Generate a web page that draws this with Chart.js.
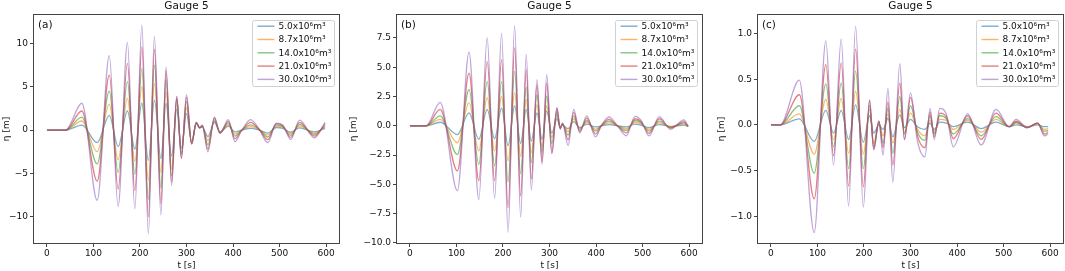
<!DOCTYPE html>
<html>
<head>
<meta charset="utf-8">
<script src="https://cdn.jsdelivr.net/npm/chart.js@4.4.0/dist/chart.umd.min.js"></script>
<style>
  html, body { margin: 0; padding: 0; background: #fff; }
  #wrap { position: relative; width: 1065px; height: 271px; overflow: hidden; }
  .panel { position: absolute; top: 0; height: 271px; }
</style>
</head>
<body>
<div id="wrap">
  <div class="panel" style="left:0px;width:355px"><canvas id="ca"></canvas></div>
  <div class="panel" style="left:340px;width:375px"><canvas id="cb"></canvas></div>
  <div class="panel" style="left:710px;width:355px"><canvas id="cc"></canvas></div>
</div>
<script>
// legend labels + matplotlib default colours
const volumes = ['5.0x10⁶m³', '8.7x10⁶m³', '14.0x10⁶m³', '21.0x10⁶m³', '30.0x10⁶m³']
const colours = ['31,119,180', '255,127,14', '44,160,44', '214,39,40', '148,103,189']

const xTicks = [0, 100, 200, 300, 400, 500, 600]

// (a) times of the crests / troughs [s] and η [m] for each volume
const tA = [0, 40, 75, 108, 134, 153, 173, 189, 204, 218, 231, 245, 256, 268, 279, 289, 300, 311, 321, 328, 334, 346, 360, 372, 390, 404, 419, 438, 456, 475, 493, 507, 524, 543, 575, 598]
const a5 = [0, 0, 0.58, -1.45, 1.7, -1.9, 2.2, -2.2, 3.1, -3.5, 3.45, -3.3, 3.1, -3.0, 2.4, -2.1, 1.9, -1.4, 0.75, 0.3, 0.35, -0.75, 0.9, -0.2, 0.45, -0.2, 0.0, 0.2, 0.0, -0.35, 0.3, 0.2, -0.25, 0.25, -0.2, 0.2]
const a8_7 = [0, 0, 1.05, -2.5, 3.0, -3.4, 3.65, -3.6, 5.0, -5.8, 5.4, -4.9, 4.4, -4.5, 3.5, -2.6, 2.6, -1.5, 0.8, 0.3, 0.4, -1.2, 1.0, -0.25, 0.6, -0.45, 0.0, 0.4, 0.05, -0.55, 0.45, 0.3, -0.4, 0.45, -0.35, 0.35]
const a14 = [0, 0, 1.5, -3.9, 4.5, -4.9, 5.6, -5.1, 7.1, -8.0, 7.5, -6.7, 5.8, -5.3, 3.6, -2.8, 3.3, -1.6, 0.85, 0.3, 0.45, -1.7, 1.2, -0.3, 0.8, -0.7, 0.0, 0.6, 0.1, -0.8, 0.6, 0.4, -0.6, 0.65, -0.5, 0.5]
const a21 = [0, 0, 2.2, -5.9, 6.35, -6.8, 7.7, -7.0, 9.6, -10.0, 9.3, -8.5, 6.9, -6.0, 3.85, -3.3, 3.8, -1.6, 0.9, 0.25, 0.5, -2.2, 1.4, -0.35, 1.0, -1.0, 0.0, 0.9, 0.1, -1.1, 0.75, 0.5, -0.85, 0.9, -0.7, 0.75]
const a30 = [0, 0, 3.1, -8.1, 8.6, -8.8, 10.1, -9.1, 12.1, -12.0, 10.8, -9.8, 7.3, -6.4, 3.9, -3.2, 4.1, -1.6, 0.9, 0.2, 0.6, -2.5, 1.5, -0.4, 1.2, -1.35, 0.0, 1.2, 0.1, -1.45, 0.8, 0.6, -1.1, 1.15, -0.9, 0.9]

// (b)
const tB = [0, 35, 65, 102, 127, 148, 166, 182, 197, 211, 225, 238, 250, 261, 273, 284, 294, 305, 316, 323, 328, 340, 352, 365, 380, 399, 412, 428, 446, 465, 484, 497, 514, 536, 560, 589, 598]
const b5 = [0, 0, 0.3, -0.75, 1.1, -1.15, 1.4, -1.1, 1.5, -1.7, 1.7, -1.5, 1.4, -1.3, 1.1, -1.15, 1.25, -0.6, 0.6, -0.1, 0.05, -0.25, 0.35, -0.15, 0.15, -0.1, 0.0, 0.1, 0.0, -0.1, 0.15, 0.05, -0.15, 0.1, -0.05, 0.05, -0.05]
const b8_7 = [0, 0, 0.55, -1.45, 1.95, -2.15, 2.4, -2.15, 2.5, -3.0, 2.8, -2.6, 2.25, -2.3, 1.8, -1.8, 1.7, -1.0, 0.9, -0.15, 0.1, -0.5, 0.6, -0.25, 0.3, -0.3, 0.0, 0.25, 0.0, -0.25, 0.3, 0.15, -0.3, 0.25, -0.1, 0.15, -0.05]
const b14 = [0, 0, 0.85, -2.45, 3.1, -3.3, 3.8, -3.4, 3.8, -4.8, 4.65, -4.1, 3.3, -3.15, 2.65, -2.3, 2.55, -1.5, 1.2, -0.2, 0.15, -0.8, 0.85, -0.35, 0.45, -0.45, 0.02, 0.4, 0.0, -0.4, 0.45, 0.25, -0.45, 0.4, -0.15, 0.25, -0.05]
const b21 = [0, 0, 1.4, -3.85, 4.5, -4.7, 5.5, -4.7, 5.65, -7.0, 6.65, -6.0, 4.8, -4.55, 3.5, -3.1, 3.65, -2.3, 1.5, -0.25, 0.2, -1.2, 1.15, -0.5, 0.65, -0.7, 0.05, 0.55, 0.0, -0.6, 0.6, 0.35, -0.65, 0.6, -0.2, 0.35, -0.05]
const b30 = [0, 0, 2.0, -5.55, 6.3, -6.3, 7.5, -6.2, 7.9, -9.1, 8.55, -7.8, 6.1, -5.5, 3.95, -3.3, 4.4, -2.4, 1.55, -0.3, 0.25, -1.7, 1.4, -0.6, 0.85, -0.95, 0.05, 0.75, 0.0, -0.85, 0.8, 0.45, -0.87, 0.78, -0.3, 0.5, -0.05]

// (c)
const tC = [0, 20, 61, 93, 118, 134.5, 151, 167, 182, 198.6, 212, 221, 232, 241, 251.5, 262, 277, 287, 300, 315, 331, 342, 351, 363, 377, 392, 423, 452, 484, 512, 527, 551, 573, 588, 596]
const c5 = [0, 0, 0.065, -0.18, 0.16, -0.09, 0.16, -0.16, 0.22, -0.19, 0.1, -0.09, 0.0, -0.05, 0.07, -0.13, 0.11, -0.03, 0.06, -0.02, -0.05, 0.02, -0.05, 0.03, 0.02, -0.02, 0.03, -0.04, 0.03, -0.02, 0.0, -0.02, 0.0, -0.02, -0.02]
const c8_7 = [0, 0, 0.12, -0.32, 0.28, -0.16, 0.29, -0.31, 0.37, -0.32, 0.17, -0.2, 0.02, -0.12, 0.12, -0.2, 0.17, -0.08, 0.13, -0.05, -0.12, 0.05, -0.08, 0.06, 0.05, -0.05, 0.05, -0.08, 0.06, -0.02, 0.02, -0.02, 0.01, -0.05, -0.04]
const c14 = [0, 0, 0.21, -0.53, 0.45, -0.24, 0.46, -0.48, 0.59, -0.48, 0.21, -0.24, 0.04, -0.2, 0.18, -0.31, 0.31, -0.1, 0.21, -0.08, -0.17, 0.1, -0.1, 0.1, 0.07, -0.1, 0.07, -0.12, 0.09, -0.02, 0.03, -0.03, 0.02, -0.07, -0.06]
const c21 = [0, 0, 0.33, -0.81, 0.66, -0.34, 0.68, -0.67, 0.83, -0.68, 0.27, -0.27, 0.04, -0.25, 0.25, -0.44, 0.46, -0.16, 0.3, -0.12, -0.25, 0.14, -0.13, 0.13, 0.09, -0.15, 0.1, -0.16, 0.13, -0.02, 0.04, -0.03, 0.02, -0.1, -0.08]
const c30 = [0, 0, 0.49, -1.18, 0.92, -0.44, 0.94, -0.89, 1.08, -0.9, 0.27, -0.27, 0.04, -0.33, 0.4, -0.63, 0.67, -0.16, 0.35, -0.18, -0.35, 0.18, -0.16, 0.18, 0.12, -0.24, 0.12, -0.22, 0.17, -0.02, 0.06, -0.03, 0.02, -0.12, -0.1]

const FONT = 'DejaVu Sans'
const TXT = '#111'

// frame, title, panel letter and the boxed legend (matplotlib style)
const decoPlugin = {
  id: 'deco',
  afterDraw(chart, args, o) {
    const { ctx, chartArea: ca } = chart
    ctx.save()
    ctx.strokeStyle = '#444'
    ctx.lineWidth = 1
    ctx.strokeRect(Math.round(ca.left) + 0.5, Math.round(ca.top) + 0.5,
      Math.round(ca.right - ca.left) - 1, Math.round(ca.bottom - ca.top) - 1)

    ctx.fillStyle = TXT
    ctx.textAlign = 'center'
    ctx.textBaseline = 'middle'
    ctx.font = '10.5px "' + FONT + '"'
    ctx.fillText('Gauge 5', (ca.left + ca.right) / 2, 6.5)

    ctx.textAlign = 'left'
    ctx.fillText(o.letter, ca.left + 5, ca.top + 11)

    // legend
    ctx.font = '9px "' + FONT + '"'
    let tw = 0
    chart.data.datasets.forEach(d => { tw = Math.max(tw, ctx.measureText(d.label).width) })
    const bw = Math.round(tw + 29), bh = 66
    const bx = Math.round(ca.right - 6 - bw) + 0.5, by = Math.round(ca.top + 6) + 0.5
    ctx.fillStyle = 'rgba(255,255,255,0.8)'
    ctx.strokeStyle = '#d0d0d0'
    ctx.beginPath()
    ctx.roundRect(bx, by, bw, bh, 2)
    ctx.fill()
    ctx.stroke()
    chart.data.datasets.forEach((d, i) => {
      const yy = by + 5.7 + i * 13.3
      ctx.strokeStyle = d.borderColor
      ctx.lineWidth = 1.4
      ctx.beginPath()
      ctx.moveTo(bx + 5, yy)
      ctx.lineTo(bx + 22, yy)
      ctx.stroke()
      ctx.fillStyle = TXT
      ctx.fillText(d.label, bx + 26, yy + 0.5)
    })
    ctx.restore()
  }
}

const makeChart = (id, t, series, y) => {
  const datasets = series.map((vals, i) => ({
    label: volumes[i],
    data: t.map((x, k) => ({ x: x, y: vals[k] })),
    borderColor: 'rgba(' + colours[i] + ',0.6)',
    borderWidth: 1.3,
    pointRadius: 0,
    cubicInterpolationMode: 'monotone',
    order: 4 - i
  }))
  const tickFont = { family: FONT, size: 9 }
  return new Chart(document.getElementById(id), {
    type: 'line',
    data: { datasets: datasets },
    plugins: [decoPlugin],
    options: {
      animation: false,
      responsive: true,
      maintainAspectRatio: false,
      layout: { padding: { top: 14, right: y.right, left: 0, bottom: 0 } },
      plugins: {
        legend: { display: false },
        tooltip: { enabled: false },
        deco: { letter: y.letter }
      },
      scales: {
        x: {
          type: 'linear',
          min: -30,
          max: 630,
          afterFit: s => { s.height = 27 },
          afterBuildTicks: s => { s.ticks = xTicks.map(v => ({ value: v })) },
          ticks: { color: TXT, font: tickFont, padding: 1, maxRotation: 0, autoSkip: false },
          grid: { drawOnChartArea: false, drawTicks: true, tickLength: 3, color: '#444' },
          border: { display: false },
          title: { display: true, text: 't [s]', color: TXT, font: tickFont, padding: { top: 0, bottom: 0 } }
        },
        y: {
          min: y.min,
          max: y.max,
          afterFit: s => { s.width = y.width },
          afterBuildTicks: s => { s.ticks = y.ticks.map(v => ({ value: v })) },
          ticks: {
            color: TXT, font: tickFont, padding: 2, autoSkip: false,
            callback: v => v.toFixed(y.dec).replace('-', '−')
          },
          grid: { drawOnChartArea: false, drawTicks: true, tickLength: 3, color: '#444' },
          border: { display: false },
          title: { display: true, text: 'η [m]', color: TXT, font: tickFont, padding: { top: y.tpad, bottom: 0 } }
        }
      }
    }
  })
}

makeChart('ca', tA, [a5, a8_7, a14, a21, a30],
  { min: -13.15, max: 13.4, ticks: [-10, -5, 0, 5, 10], dec: 0, width: 33, right: 15, tpad: 1, letter: '(a)' })
makeChart('cb', tB, [b5, b8_7, b14, b21, b30],
  { min: -10.1, max: 9.55, ticks: [-10, -7.5, -5, -2.5, 0, 2.5, 5, 7.5], dec: 1, width: 56, right: 12, tpad: 8, letter: '(b)' })
makeChart('cc', tC, [c5, c8_7, c14, c21, c30],
  { min: -1.305, max: 1.215, ticks: [-1, -0.5, 0, 0.5, 1], dec: 1, width: 47, right: 1, tpad: 6, letter: '(c)' })
</script>
</body>
</html>
